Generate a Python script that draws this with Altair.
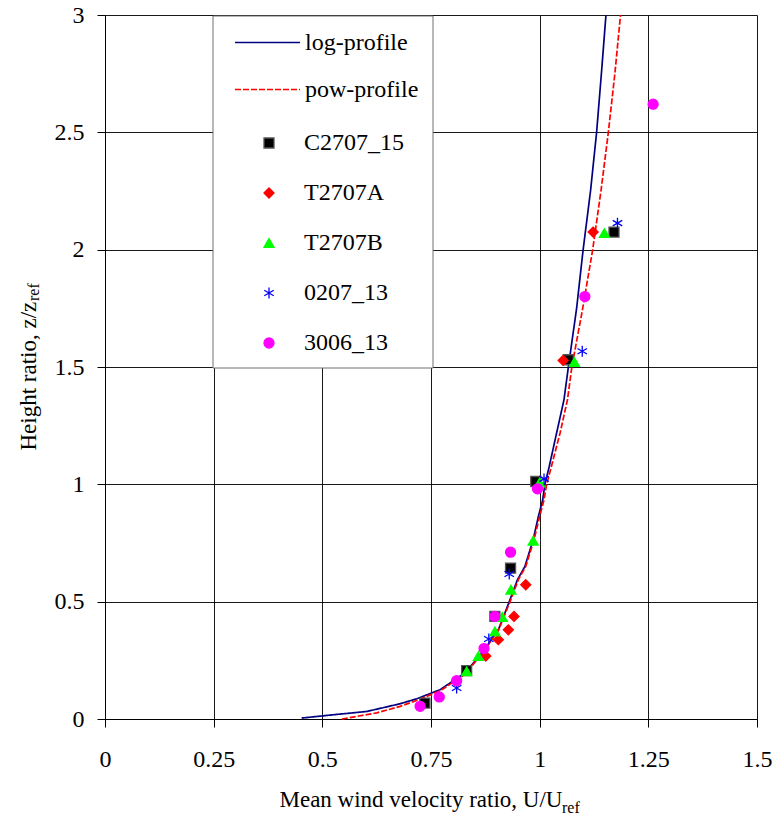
import altair as alt
import pandas as pd

FONT = "Liberation Serif"

# ---- profile curves ----
log_x = [0.4525, 0.525, 0.602, 0.679, 0.717, 0.771, 0.828, 0.867, 0.905, 0.930, 0.949, 0.966,
         0.985, 0.997, 1.007, 1.012, 1.022, 1.039, 1.056, 1.066, 1.085, 1.100, 1.117, 1.131, 1.142, 1.1525]
log_y = [0.004, 0.018, 0.032, 0.065, 0.086, 0.125, 0.196, 0.281, 0.380, 0.500, 0.594, 0.650,
         0.764, 0.863, 0.934, 1.000, 1.076, 1.219, 1.361, 1.500, 1.750, 2.000, 2.250, 2.500, 2.750, 3.000]
pow_x = [0.545, 0.625, 0.679, 0.717, 0.771, 0.828, 0.867, 0.905, 0.932, 0.951, 0.968,
         0.987, 1.000, 1.010, 1.016, 1.027, 1.047, 1.064, 1.074, 1.099, 1.122, 1.141, 1.158, 1.173, 1.186]
pow_y = [0.000, 0.026, 0.054, 0.079, 0.120, 0.190, 0.278, 0.378, 0.500, 0.594, 0.650,
         0.764, 0.863, 0.934, 1.000, 1.076, 1.219, 1.361, 1.500, 1.750, 2.000, 2.250, 2.500, 2.750, 3.000]

# ---- measured series ----
c2707_x = [0.736, 0.832, 0.897, 0.933, 0.991, 1.066, 1.171]
c2707_y = [0.068, 0.206, 0.437, 0.643, 1.012, 1.531, 2.075]
t2707a_x = [0.876, 0.905, 0.928, 0.941, 0.968, 1.054, 1.123]
t2707a_y = [0.268, 0.338, 0.380, 0.437, 0.572, 1.528, 2.075]
t2707b_x = [0.832, 0.859, 0.897, 0.914, 0.934, 0.985, 1.000, 1.080, 1.149]
t2707b_y = [0.203, 0.268, 0.373, 0.435, 0.551, 0.760, 1.008, 1.521, 2.071]
s0207_x = [0.809, 0.883, 0.930, 1.010, 1.098, 1.179]
s0207_y = [0.132, 0.341, 0.618, 1.023, 1.567, 2.113]
s3006_x = [0.725, 0.769, 0.809, 0.872, 0.897, 0.933, 0.995, 1.104, 1.261]
s3006_y = [0.054, 0.094, 0.163, 0.300, 0.437, 0.711, 0.981, 1.800, 2.620]

profile_names = ["log-profile", "pow-profile"]
profile_colors = ["#000080", "#FF0000"]
series_names = ["C2707_15", "T2707A", "T2707B", "0207_13", "3006_13"]
series_colors = ["#000000", "#FF0000", "#00FF00", "#0000FF", "#FF00FF"]
series_strokes = ["#555555", "#FF0000", "#00FF00", "#0000FF", "#FF00FF"]
series_shapes = ["square", "diamond", "triangle-up",
                 "M0,-1.1L0,1.1M-0.95,-0.55L0.95,0.55M-0.95,0.55L0.95,-0.55", "circle"]

x_ticks = [0, 0.25, 0.5, 0.75, 1, 1.25, 1.5]
y_ticks = [0, 0.5, 1, 1.5, 2, 2.5, 3]

# ---- tables ----
rows = []
for name, xs_, ys_ in [(profile_names[0], log_x, log_y), (profile_names[1], pow_x, pow_y)]:
    for i, (a, b) in enumerate(zip(xs_, ys_)):
        rows.append({"profile": name, "u": a, "z": b, "idx": i})
lines_df = pd.DataFrame(rows)

prow = []
for name, xs_, ys_ in zip(series_names,
                          [c2707_x, t2707a_x, t2707b_x, s0207_x, s3006_x],
                          [c2707_y, t2707a_y, t2707b_y, s0207_y, s3006_y]):
    for a, b in zip(xs_, ys_):
        prow.append({"series": name, "u": a, "z": b})
pts_df = pd.DataFrame(prow)

W, H = 652, 704

xs = alt.Scale(domain=[0, 1.5], nice=False, zero=False)
ys = alt.Scale(domain=[0, 3], nice=False, zero=False)

x_axis = alt.Axis(values=x_ticks, format=".2~f", grid=True, gridColor="#000000", gridOpacity=0.9,
                  domainColor="#000000", tickColor="#000000", tickSize=8, labelPadding=20,
                  labelFlush=False,
                  labelFont=FONT, labelFontSize=24, labelColor="#000000",
                  title="Mean wind velocity ratio, U/U", titleFont=FONT, titleFontSize=23,
                  titleFontWeight="normal", titleColor="#000000",
                  titleX=174, titleY=87, titleAlign="left", titleAnchor="start",
                  titleBaseline="alphabetic")
y_axis = alt.Axis(values=y_ticks, format=".2~f", grid=True, gridColor="#000000", gridOpacity=0.9,
                  domainColor="#000000", tickColor="#000000", tickSize=8, labelPadding=13,
                  labelFlush=False,
                  labelFont=FONT, labelFontSize=24, labelColor="#000000",
                  title="Height ratio, z/z", titleFont=FONT, titleFontSize=23,
                  titleFontWeight="normal", titleColor="#000000", titleAngle=270,
                  titleX=-70, titleY=435, titleAlign="left", titleAnchor="start",
                  titleBaseline="alphabetic")

base_x = alt.X("u:Q", scale=xs, axis=x_axis)
base_y = alt.Y("z:Q", scale=ys, axis=y_axis)

# legend frame
frame = alt.Chart(pd.DataFrame({"k": [0]})).mark_rect(
    fill="#FFFFFF", stroke="#707070", strokeWidth=1
).encode(x=alt.value(108), x2=alt.value(328), y=alt.value(1), y2=alt.value(353))

line_legend = alt.Legend(orient="none", legendX=129, legendY=-6, symbolType="stroke",
                         symbolSize=4225, symbolStrokeWidth=1.6, labelOffset=4,
                         labelFont=FONT, labelFontSize=24, labelColor="#000000",
                         rowPadding=1, padding=0, direction="vertical")

lines = alt.Chart(lines_df).mark_line(strokeWidth=1.7).encode(
    x=base_x, y=base_y,
    color=alt.Color("profile:N", scale=alt.Scale(domain=profile_names, range=profile_colors),
                    legend=line_legend, title=None),
    strokeDash=alt.StrokeDash("profile:N",
                              scale=alt.Scale(domain=profile_names, range=[[1, 0], [6, 2]]),
                              legend=line_legend, title=None),
    order="idx:Q",
)

pt_legend = alt.Legend(orient="none", legendX=152, legendY=116, symbolSize=100,
                       symbolStrokeWidth=1.3, labelOffset=23,
                       labelFont=FONT, labelFontSize=24, labelColor="#000000",
                       rowPadding=26, padding=0, direction="vertical")

points = alt.Chart(pts_df).mark_point(filled=True, size=100, strokeWidth=1.3, opacity=1).encode(
    x=alt.X("u:Q", scale=xs), y=alt.Y("z:Q", scale=ys),
    fill=alt.Fill("series:N", scale=alt.Scale(domain=series_names, range=series_colors),
                  legend=pt_legend, title=None),
    stroke=alt.Stroke("series:N", scale=alt.Scale(domain=series_names, range=series_strokes),
                      legend=pt_legend, title=None),
    shape=alt.Shape("series:N", scale=alt.Scale(domain=series_names, range=series_shapes),
                    legend=pt_legend, title=None),
)

subs = pd.DataFrame({"label": ["ref"]})
x_sub = alt.Chart(subs).mark_text(font=FONT, fontSize=16, align="left", baseline="alphabetic",
                                  color="#000000").encode(
    text="label:N", x=alt.value(457), y=alt.value(798))
y_sub = alt.Chart(subs).mark_text(font=FONT, fontSize=16, align="left", baseline="alphabetic",
                                  angle=270, color="#000000").encode(
    text="label:N", x=alt.value(-66), y=alt.value(286))

chart = alt.layer(frame, lines, points, x_sub, y_sub).properties(
    width=W, height=H,
    autosize=alt.AutoSizeParams(type="none"),
    padding={"left": 105, "top": 15, "right": 18, "bottom": 106},
    background="#FFFFFF",
).configure(font=FONT).configure_view(strokeWidth=0).configure_legend(
    labelFont=FONT, labelFontSize=24
).configure_axis(labelFont=FONT, titleFont=FONT)

chart.save("out.html", embed_options={"renderer": "svg", "actions": False})
